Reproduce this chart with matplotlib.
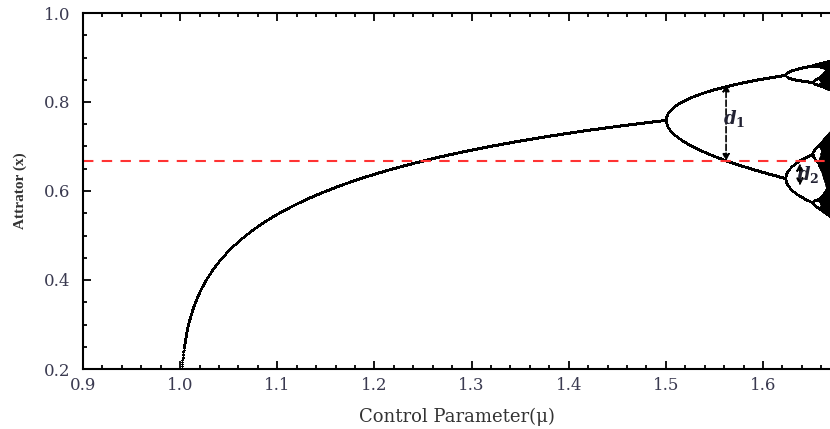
import numpy as np
import matplotlib
matplotlib.use("Agg")
import matplotlib.pyplot as plt
from matplotlib.ticker import MultipleLocator

# control parameter range and map settings (x_{n+1} = mu * x * (1 - x^4))
mu_range = [0.9, 1.669]
x_range = [0.2, 1.0]
map_power = 4
n_mu = 4000
n_transient = 3000
n_keep = 300

# reference line and distance markers
ref_level = 2.0 / 3.0
d_labels = ["$d_1$", "$d_2$"]
d_mu = [1.562, 1.638]
d_low = [0.667, 0.612]
d_high = [0.840, 0.662]
d_text_y = [0.764, 0.636]

# iterate the map for every mu
mu = np.linspace(1.0, mu_range[1], n_mu)
x = np.full(n_mu, 0.5)
for _ in range(n_transient):
    x = mu * x * (1 - x ** map_power)
pts_mu = []
pts_x = []
for _ in range(n_keep):
    x = mu * x * (1 - x ** map_power)
    pts_mu.append(mu)
    pts_x.append(x.copy())
pts_mu = np.concatenate(pts_mu)
pts_x = np.concatenate(pts_x)

plt.rcParams['font.family'] = ['DejaVu Serif']
plt.rcParams['mathtext.fontset'] = 'custom'
plt.rcParams['mathtext.it'] = 'DejaVu Serif:italic:bold'
plt.rcParams['mathtext.rm'] = 'DejaVu Serif:bold'
fig = plt.figure(figsize=(8.3, 4.29), dpi=100)
ax = fig.add_axes([83 / 830, 60 / 429, 1 - 83 / 830, 356 / 429])

ax.plot(pts_mu, pts_x, 'o', color='black', ms=1.1, mec='none')
ax.axhline(ref_level, color='#ff3333', ls=(0, (5, 4)), lw=1.5)

for lab, m, lo, hi, ty in zip(d_labels, d_mu, d_low, d_high, d_text_y):
    ax.annotate('', xy=(m, hi), xytext=(m, lo),
                arrowprops=dict(arrowstyle='<|-|>', color='black', ls='--',
                                lw=1.2, mutation_scale=10, shrinkA=0, shrinkB=0))
    ax.text(m + 0.008, ty, lab, fontsize=13, ha='center', va='center', color='#222233')

ax.set_xlim(mu_range)
ax.set_ylim(x_range)
ax.xaxis.set_major_locator(MultipleLocator(0.1))
ax.xaxis.set_minor_locator(MultipleLocator(0.02))
ax.yaxis.set_major_locator(MultipleLocator(0.2))
ax.yaxis.set_minor_locator(MultipleLocator(0.05))
ax.tick_params(which='both', direction='in', top=True, right=False, width=1.3)
ax.tick_params(which='major', length=6, labelsize=12, labelcolor='#3a3a50')
ax.tick_params(which='minor', length=3)
ax.tick_params(axis='x', which='major', pad=6)
ax.tick_params(axis='y', which='major', pad=9)
for s in ax.spines.values():
    s.set_linewidth(1.5)
ax.spines['right'].set_visible(False)

ax.set_xlabel('Control Parameter(μ)', fontsize=13, color='#333333', labelpad=10)
ax.set_ylabel('Attrator (x)', fontsize=11, color='#333333', fontweight='bold',
              labelpad=12, family='Liberation Serif')

fig.savefig('out.png', dpi=100)
